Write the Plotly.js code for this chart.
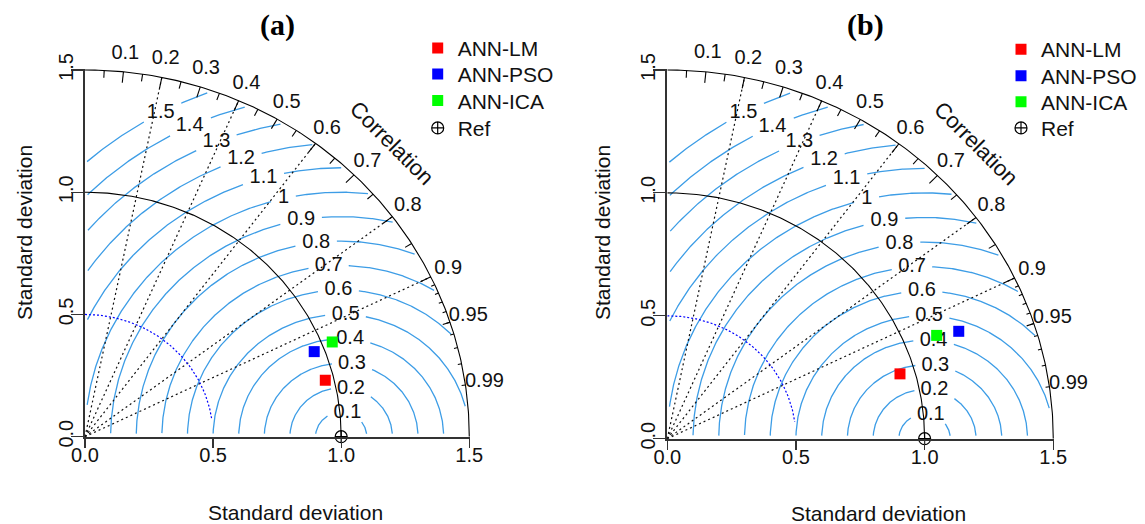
<!DOCTYPE html>
<html>
<head>
<meta charset="utf-8">
<script src="https://cdn.plot.ly/plotly-3.0.1.min.js"></script>
<style>
  html, body { margin: 0; padding: 0; background: #ffffff; }
  #chart { width: 1145px; height: 524px; }
</style>
</head>
<body>
<div id="chart"></div>
<script>
// Taylor diagram data: standard deviation and correlation of each model vs. the reference
const models = ['ANN-LM', 'ANN-PSO', 'ANN-ICA'];
const sdA = [0.966, 0.960, 1.040];
const corA = [0.971, 0.932, 0.928];
const sdB = [0.942, 1.214, 1.128];
const corB = [0.960, 0.933, 0.928];
const refSd = 1.0;
const maxSd = 1.5;
const sdTicks = [0, 0.5, 1.0, 1.5];
const sdTickText = ['0.0', '0.5', '1.0', '1.5'];
const corLabels = [0.1, 0.2, 0.3, 0.4, 0.5, 0.6, 0.7, 0.8, 0.9, 0.95, 0.99];
const corLines = [0.2, 0.4, 0.6, 0.8, 0.9];
const rmsLevels = [0.1, 0.2, 0.3, 0.4, 0.5, 0.6, 0.7, 0.8, 0.9, 1.0, 1.1, 1.2, 1.3, 1.4, 1.5];
const rmsText = ['0.1', '0.2', '0.3', '0.4', '0.5', '0.6', '0.7', '0.8', '0.9', '1', '1.1', '1.2', '1.3', '1.4', '1.5'];
const sdArcs = [0.5];
const panelTitles = ['(a)', '(b)'];

// styling
const modelColors = ['#ff0000', '#0000ff', '#00ff00'];
const rmsColor = '#3d9de6';
const FONT = 'Liberation Sans, Arial, sans-serif';
const LBL = 20;
const W = 1145, H = 524;
const RMAX = 1.504;   // range of the visible axes
const RLAB = 1.7;     // range of the hidden axes carrying labels outside the quadrant

// pixel frame of each diagram plus positions of its titles and legend rows
const frames = [
  { left: 85.0, right: 470.3, bottom: 436.7, top: 69.0, xt: 295, yt: 512, yl: 25, ttl: 277,
    lgx: 417.7, rows: [46.7, 72.7, 99.3, 126.7] },
  { left: 667.3, right: 1054.3, bottom: 438.7, top: 69.0, xt: 878, yt: 513, yl: 603, ttl: 865,
    lgx: 1001, rows: [48.0, 74.5, 100.5, 126.7] }
];

const deg = Math.PI / 180;
function textWidth(s, size) {
  let w = 0;
  for (const ch of s) w += (ch === '.' ? 0.278 : 0.556) * size;
  return w;
}

const traces = [];
const annotations = [];
const layout = {
  width: W, height: H,
  margin: { l: 0, r: 0, t: 0, b: 0 },
  paper_bgcolor: '#ffffff', plot_bgcolor: 'rgba(0,0,0,0)',
  showlegend: true,
  font: { family: FONT, size: LBL, color: '#111111' }
};
let legendCount = 0;

[[sdA, corA], [sdB, corB]].forEach(([sd, cor], p) => {
  const f = frames[p];
  const xa = p === 0 ? 'x' : 'x2';
  const ya = p === 0 ? 'y' : 'y2';
  const xl = p === 0 ? 'x3' : 'x4';
  const yl = p === 0 ? 'y3' : 'y4';
  const pxX = (f.right - f.left) / RMAX;
  const pxY = (f.bottom - f.top) / RMAX;

  // centred RMS difference contours around the reference point, broken under their labels
  const cx = [], cy = [];
  const lbx = [], lby = [];
  rmsLevels.forEach((g, k) => {
    const th = (73 + 30 * g) * deg;
    const lx = refSd + g * Math.cos(th), ly = g * Math.sin(th);
    lbx.push(lx); lby.push(ly);
    const hw = textWidth(rmsText[k], LBL) / 2 + 6, hh = 9;
    const N = 600;
    for (let i = 0; i <= N; i++) {
      const phi = Math.PI * i / N;
      const x = refSd + g * Math.cos(phi), y = g * Math.sin(phi);
      const inside = x >= 0.008 && y >= 0.012 && Math.hypot(x, y) <= maxSd * 0.993;
      const gap = Math.abs((x - lx) * pxX) < hw && Math.abs((y - ly) * pxY) < hh;
      if (inside && !gap) { cx.push(x); cy.push(y); } else { cx.push(null); cy.push(null); }
    }
    cx.push(null); cy.push(null);
  });
  traces.push({ type: 'scatter', mode: 'lines', x: cx, y: cy, xaxis: xa, yaxis: ya,
    line: { color: rmsColor, width: 1.3 }, hoverinfo: 'skip', showlegend: false, connectgaps: false });
  traces.push({ type: 'scatter', mode: 'text', x: lbx, y: lby, text: rmsText, xaxis: xa, yaxis: ya,
    textposition: 'middle center', textfont: { size: LBL, family: FONT, color: '#111' },
    cliponaxis: false, hoverinfo: 'skip', showlegend: false });

  // dotted radial lines of constant correlation
  const rx = [], ry = [];
  corLines.forEach(c => {
    const a = Math.acos(c);
    rx.push(0, maxSd * Math.cos(a), null);
    ry.push(0, maxSd * Math.sin(a), null);
  });
  traces.push({ type: 'scatter', mode: 'lines', x: rx, y: ry, xaxis: xa, yaxis: ya,
    line: { color: '#111', width: 1.2, dash: '2px,3px' }, hoverinfo: 'skip', showlegend: false });

  // blue dotted standard deviation arc
  sdArcs.forEach(r => {
    const ax = [], ay = [];
    for (let a = 90; a >= 8; a -= 1) { ax.push(r * Math.cos(a * deg)); ay.push(r * Math.sin(a * deg)); }
    traces.push({ type: 'scatter', mode: 'lines', x: ax, y: ay, xaxis: xa, yaxis: ya,
      line: { color: '#0000ff', width: 1.2, dash: '2px,2px' }, hoverinfo: 'skip', showlegend: false });
  });

  // reference standard deviation arc and outer arc
  [refSd, maxSd].forEach(r => {
    const ax = [], ay = [];
    for (let a = 0; a <= 90; a += 0.5) { ax.push(r * Math.cos(a * deg)); ay.push(r * Math.sin(a * deg)); }
    traces.push({ type: 'scatter', mode: 'lines', x: ax, y: ay, xaxis: xa, yaxis: ya,
      line: { color: '#000', width: 1.1 }, hoverinfo: 'skip', showlegend: false });
  });

  // correlation tick marks on the outer arc
  const tx = [], ty = [];
  const addTick = (c, frac) => {
    const a = Math.acos(c);
    tx.push(maxSd * Math.cos(a), frac * maxSd * Math.cos(a), null);
    ty.push(maxSd * Math.sin(a), frac * maxSd * Math.sin(a), null);
  };
  for (let i = 1; i <= 9; i++) addTick(i / 10, 0.97);
  for (let i = 0; i <= 9; i++) addTick(0.05 + i / 10, 0.98);
  for (let i = 1; i <= 9; i++) addTick(0.9 + i / 100, 0.99);
  traces.push({ type: 'scatter', mode: 'lines', x: tx, y: ty, xaxis: xa, yaxis: ya,
    line: { color: '#000', width: 1.1 }, hoverinfo: 'skip', showlegend: false });

  // correlation labels outside the outer arc, on hidden axes with the same scale
  traces.push({ type: 'scatter', mode: 'text', xaxis: xl, yaxis: yl,
    x: corLabels.map(c => 1.05 * maxSd * c),
    y: corLabels.map(c => 1.05 * maxSd * Math.sqrt(1 - c * c)),
    text: corLabels.map(String), textposition: 'middle center',
    textfont: { size: LBL, family: FONT, color: '#111' }, cliponaxis: false,
    hoverinfo: 'skip', showlegend: false });
  annotations.push({ xref: xa, yref: ya, x: 0.8 * maxSd, y: 0.8 * maxSd, text: 'Correlation',
    textangle: 45, showarrow: false, xanchor: 'center', yanchor: 'middle',
    font: { size: 22, family: FONT, color: '#111' } });

  // one legend per entry so that the rows sit at their own positions
  const legendFor = (row) => {
    legendCount += 1;
    const id = legendCount === 1 ? 'legend' : 'legend' + legendCount;
    layout[id] = {
      x: f.lgx / W, y: 1 - (f.rows[row] - 18.9) / H, xanchor: 'left', yanchor: 'top',
      bgcolor: 'rgba(0,0,0,0)', borderwidth: 0, font: { size: 21, family: FONT, color: '#111' }
    };
    return id;
  };

  // model points
  models.forEach((m, i) => {
    const a = Math.acos(cor[i]);
    traces.push({ type: 'scatter', mode: 'markers', name: m, legend: legendFor(i),
      x: [sd[i] * Math.cos(a)], y: [sd[i] * Math.sin(a)], xaxis: xa, yaxis: ya, cliponaxis: false,
      marker: { symbol: 'square', size: 11, color: modelColors[i] } });
  });
  // reference point
  traces.push({ type: 'scatter', mode: 'markers', name: 'Ref', legend: legendFor(3),
    x: [refSd], y: [0], xaxis: xa, yaxis: ya, cliponaxis: false,
    marker: { symbol: 'circle-cross-open', size: 12, color: '#000', line: { width: 1.2, color: '#000' } } });

  // axes
  const axBase = {
    range: [0, RMAX], tickvals: sdTicks, ticktext: sdTickText, ticks: 'outside', tickcolor: '#333',
    tickwidth: 1.2, showline: true, linecolor: '#333', linewidth: 2, showgrid: false, zeroline: false,
    tickfont: { size: LBL, family: FONT, color: '#111' }, fixedrange: true, ticklabelstandoff: -10
  };
  layout[p === 0 ? 'xaxis' : 'xaxis2'] = Object.assign({}, axBase, {
    domain: [f.left / W, f.right / W], anchor: ya, ticklen: 9 });
  layout[p === 0 ? 'yaxis' : 'yaxis2'] = Object.assign({}, axBase, {
    domain: [1 - f.bottom / H, 1 - f.top / H], anchor: xa, ticklen: 12, tickangle: -90 });
  const hidden = { visible: false, range: [0, RLAB], fixedrange: true, showgrid: false, zeroline: false };
  layout[p === 0 ? 'xaxis3' : 'xaxis4'] = Object.assign({}, hidden, {
    domain: [f.left / W, (f.left + pxX * RLAB) / W], anchor: yl });
  layout[p === 0 ? 'yaxis3' : 'yaxis4'] = Object.assign({}, hidden, {
    domain: [1 - f.bottom / H, 1 - (f.bottom - pxY * RLAB) / H], anchor: xl });

  // axis titles and panel title
  annotations.push({ xref: 'paper', yref: 'paper', x: f.xt / W, y: 1 - f.yt / H, text: 'Standard deviation',
    xanchor: 'center', yanchor: 'middle', showarrow: false, font: { size: 21, family: FONT, color: '#111' } });
  annotations.push({ xref: 'paper', yref: 'paper', x: f.yl / W, y: 1 - 233 / H, text: 'Standard deviation',
    xanchor: 'center', yanchor: 'middle', textangle: -90, showarrow: false,
    font: { size: 21, family: FONT, color: '#111' } });
  annotations.push({ xref: 'paper', yref: 'paper', x: f.ttl / W, y: 1 - 25 / H, text: '<b>' + panelTitles[p] + '</b>',
    xanchor: 'center', yanchor: 'middle', showarrow: false,
    font: { size: 30, family: 'Liberation Serif, Times New Roman, serif', color: '#000' } });
});

layout.annotations = annotations;
Plotly.newPlot('chart', traces, layout, { displayModeBar: false, staticPlot: true });
</script>
</body>
</html>
